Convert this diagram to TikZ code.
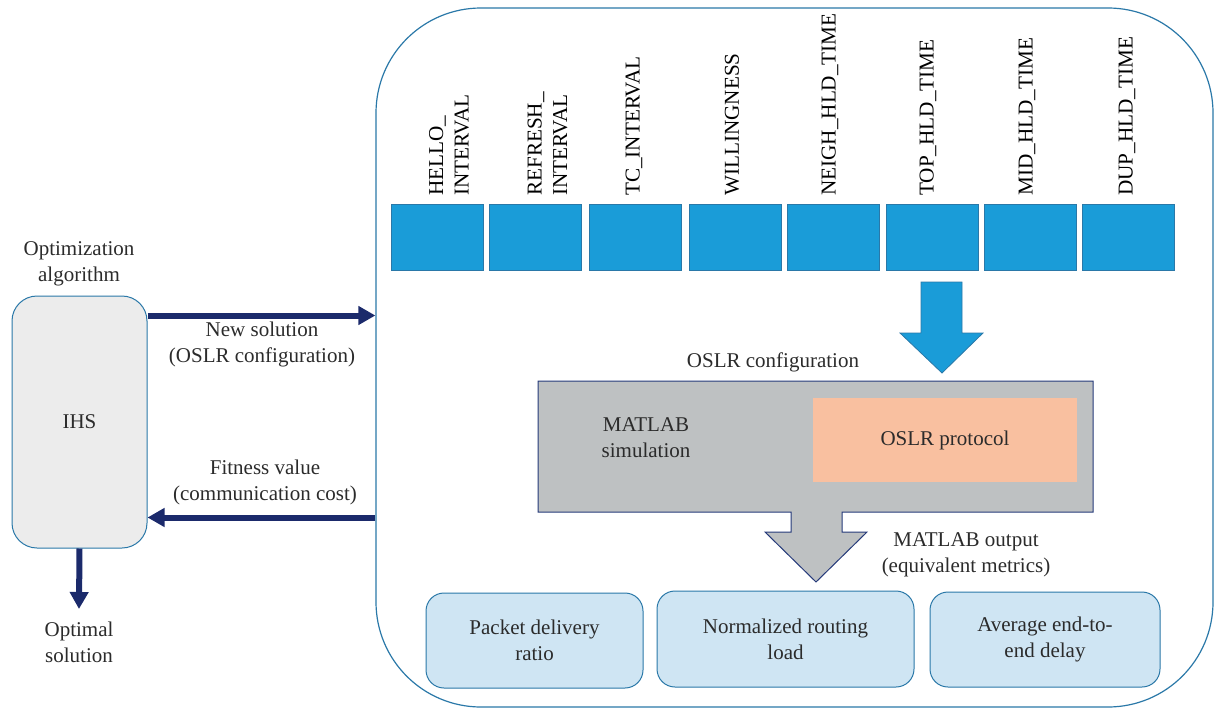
\documentclass[tikz,border=0pt]{standalone}
\usepackage{fontspec}
\setmainfont{Liberation Serif}
\usetikzlibrary{arrows.meta}
\definecolor{txt}{HTML}{2B2B2B}
\definecolor{frame}{HTML}{2A78A8}
\definecolor{navy}{HTML}{1B2A6B}
\definecolor{parblue}{HTML}{1A9CD8}
\definecolor{lightblue}{HTML}{CFE5F3}
\definecolor{salmon}{HTML}{F9C0A0}
\definecolor{simgray}{HTML}{BEC1C2}
\definecolor{ihsgray}{HTML}{ECECEC}
\definecolor{arrnavy}{HTML}{253A7A}
\tikzset{
  every node/.style={text=txt, font=\fontsize{21}{26}\selectfont},
  lbl/.style={align=center, inner sep=0pt},
  parbox/.style={draw=frame, line width=0.8pt, fill=parblue, minimum width=92pt, minimum height=66pt, inner sep=0pt},
  parlbl/.style={rotate=90, anchor=west, align=left, inner sep=0pt, text=black, font=\fontsize{21.2}{25.5}\selectfont},
  metric/.style={draw=frame, line width=1pt, fill=lightblue, rounded corners=18pt, inner sep=0pt, align=center},
  navyarrow/.style={draw=navy, line width=6pt, -{Triangle[length=17pt,width=18pt]}},
}
\begin{document}
\begin{tikzpicture}[x=1pt,y=1pt]
\useasboundingbox (0,0) rectangle (1215,-709);
% container
\node[draw=frame, line width=1.2pt, rounded corners=105pt, minimum width=837pt, minimum height=699pt, inner sep=0pt] (cont) at (794.5,-357.5) {};
% parameter boxes
\node[parbox] (p1) at (437,-237) {};
\node[parbox] (p2) at (535.5,-237) {};
\node[parbox] (p3) at (635,-237) {};
\node[parbox] (p4) at (735,-237) {};
\node[parbox] (p5) at (833,-237) {};
\node[parbox] (p6) at (932,-237) {};
\node[parbox] (p7) at (1030.5,-237) {};
\node[parbox] (p8) at (1128,-237) {};
\node[parlbl] (l1) at (449,-196) {HELLO\_\\INTERVAL};
\node[parlbl] (l2) at (547.5,-196) {REFRESH\_\\INTERVAL};
\node[parlbl] (l3) at (634,-196) {TC\_INTERVAL};
\node[parlbl] (l4) at (732,-196) {WILLINGNESS};
\node[parlbl] (l5) at (830,-196) {NEIGH\_HLD\_TIME};
\node[parlbl] (l6) at (928,-196) {TOP\_HLD\_TIME};
\node[parlbl] (l7) at (1027,-196) {MID\_HLD\_TIME};
\node[parlbl] (l8) at (1127,-196) {DUP\_HLD\_TIME};
% blue block arrow
\draw[draw=frame, line width=0.8pt, fill=parblue] (921,-282) -- (962,-282) -- (962,-333) -- (983,-333) -- (942,-373) -- (900,-333) -- (921,-333) -- cycle;
% OSLR configuration label
\node[lbl] (oslrconf) at (773,-362) {OSLR configuration};
% gray simulation box with down arrow
\draw[draw=arrnavy, line width=1pt, fill=simgray] (538,-381) -- (1093,-381) -- (1093,-512) -- (842,-512) -- (842,-532) -- (867,-532) -- (816,-582) -- (765,-532) -- (791,-532) -- (791,-512) -- (538,-512) -- cycle;
\node[lbl] (sim) at (646,-438) {MATLAB\\simulation};
\node[fill=salmon, minimum width=264pt, minimum height=84pt, inner sep=0pt] (proto) at (945,-440) {OSLR protocol};
\node[lbl] (mout) at (966,-555) {MATLAB output\\(equivalent metrics)};
% metric boxes
\node[metric, minimum width=217pt, minimum height=95pt] (m1) at (534.5,-640.5) {Packet delivery\\ratio};
\node[metric, minimum width=257pt, minimum height=96pt] (m2) at (785.5,-639) {Normalized routing\\load};
\node[metric, minimum width=230pt, minimum height=95pt] (m3) at (1045,-639.5) {Average end-to-\\end delay};
% IHS
\node[draw=frame, line width=1pt, fill=ihsgray, rounded corners=25pt, minimum width=135pt, minimum height=252pt, inner sep=0pt] (ihs) at (79.5,-422) {IHS};
\node[lbl] (opt) at (79,-264) {Optimization\\algorithm};
% arrows
\draw[navyarrow] ([yshift=-20pt]ihs.north east) -- ([yshift=-20pt]ihs.north east -| cont.west);
\node[lbl] (newsol) at (262,-344) {New solution\\(OSLR configuration)};
\draw[navyarrow] ([yshift=31pt]ihs.south east -| cont.west) -- ([yshift=31pt]ihs.south east);
\node[lbl] (fit) at (265,-482) {Fitness value\\(communication cost)};
\coordinate (opttip) at (79,-609);
\draw[navyarrow] (ihs.south) -- (opttip);
\node[lbl] (optsol) at (79,-642) {Optimal\\solution};
\end{tikzpicture}
\end{document}
